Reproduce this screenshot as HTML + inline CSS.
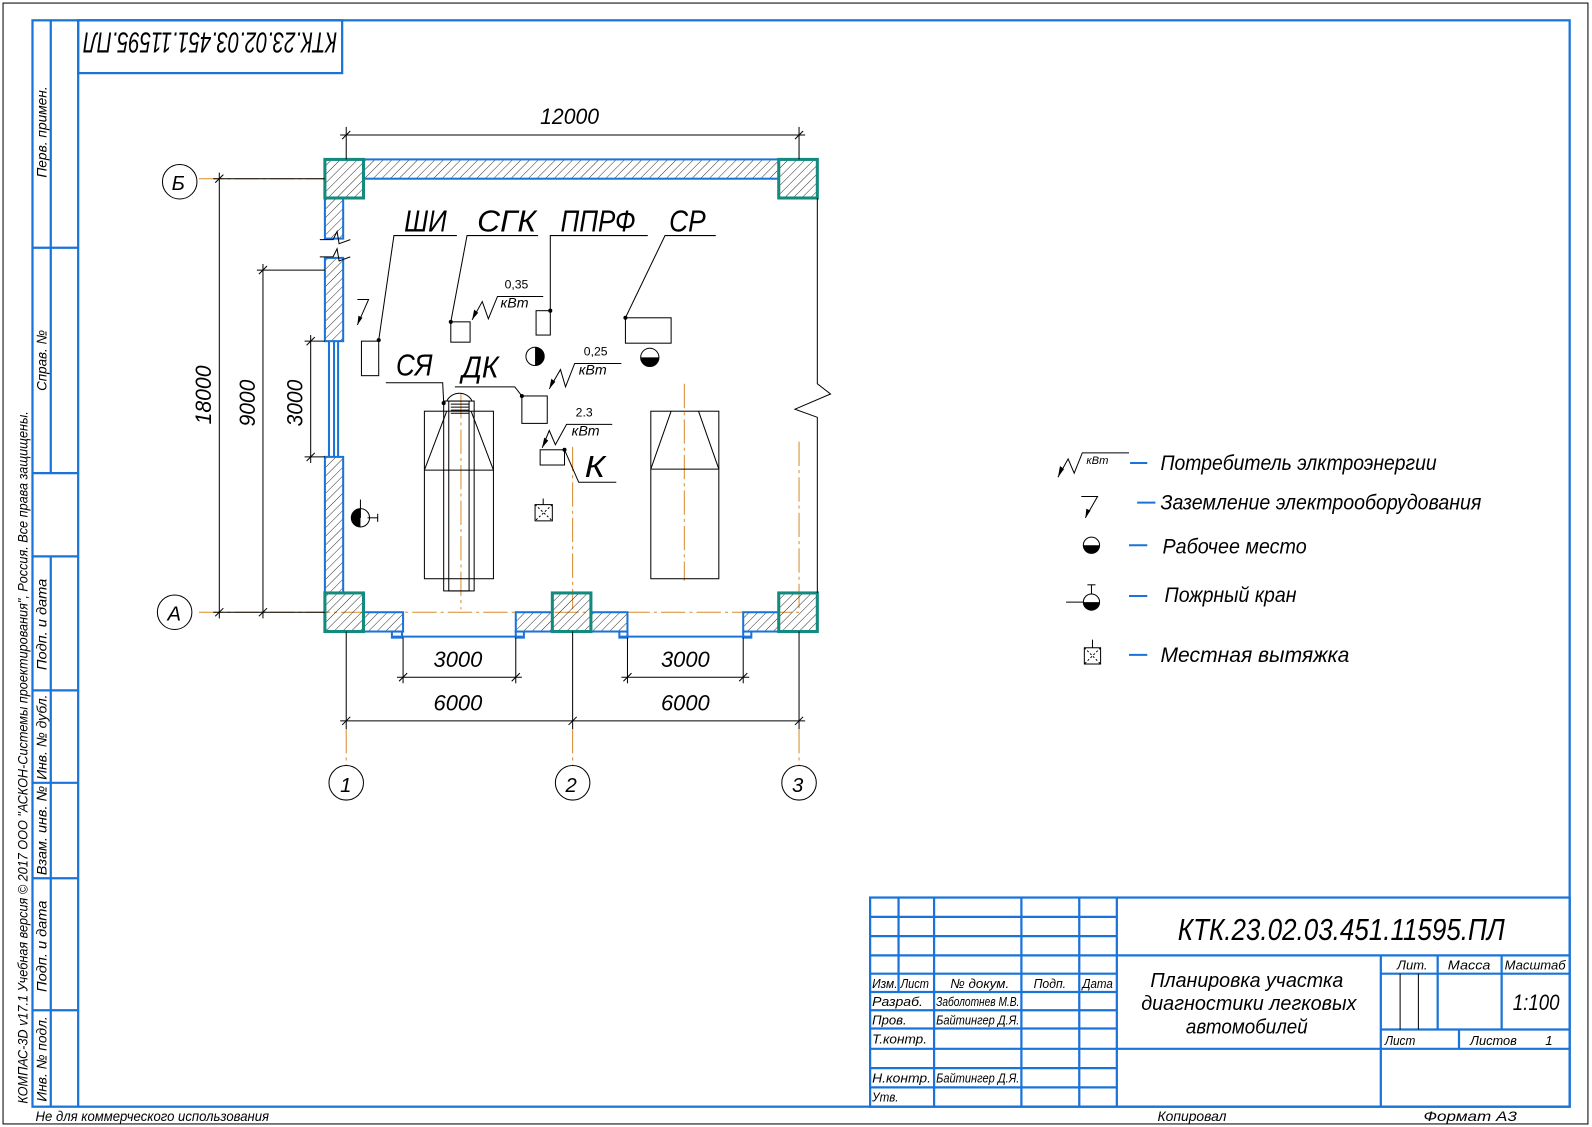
<!DOCTYPE html>
<html><head><meta charset="utf-8"><style>html,body{margin:0;padding:0;background:#fff}svg{display:block}
text{font-family:"Liberation Sans","DejaVu Sans",sans-serif;font-style:italic;fill:#000}</style></head><body>
<svg width="1592" height="1127" viewBox="0 0 1568 1110" xmlns="http://www.w3.org/2000/svg">
<defs>
<pattern id="h" width="6" height="6" patternUnits="userSpaceOnUse" patternTransform="rotate(45)"><line x1="0" y1="0" x2="0" y2="6" stroke="#000" stroke-width="0.8"/></pattern>
</defs>
<rect x="3" y="3" width="1561" height="1104" fill="none" stroke="#000" stroke-width="1"/>
<g stroke="#1a73d9" stroke-width="2.2" fill="none">
<rect x="32" y="20" width="1514" height="1070"/>
<line x1="77" y1="20" x2="77" y2="1090"/>
<line x1="50" y1="20" x2="50" y2="466"/>
<line x1="32" y1="244" x2="77" y2="244"/>
<line x1="32" y1="466" x2="77" y2="466"/>
<line x1="32" y1="548" x2="77" y2="548"/>
<line x1="50" y1="548" x2="50" y2="1090"/>
<line x1="32" y1="680" x2="77" y2="680"/>
<line x1="32" y1="771" x2="77" y2="771"/>
<line x1="32" y1="865" x2="77" y2="865"/>
<line x1="32" y1="995" x2="77" y2="995"/>
<rect x="77" y="20" width="260" height="52"/>
<rect x="857" y="884" width="689" height="206"/>
<line x1="885" y1="884" x2="885" y2="977"/>
<line x1="920" y1="884" x2="920" y2="1090"/>
<line x1="1006" y1="884" x2="1006" y2="1090"/>
<line x1="1063" y1="884" x2="1063" y2="1090"/>
<line x1="1100" y1="884" x2="1100" y2="1090"/>
<line x1="857" y1="903" x2="1100" y2="903"/><line x1="857" y1="922" x2="1100" y2="922"/>
<line x1="857" y1="941" x2="1546" y2="941"/><line x1="857" y1="959" x2="1100" y2="959"/>
<line x1="857" y1="977" x2="1100" y2="977"/><line x1="857" y1="995" x2="1100" y2="995"/>
<line x1="857" y1="1013" x2="1100" y2="1013"/><line x1="857" y1="1033" x2="1546" y2="1033"/>
<line x1="857" y1="1052" x2="1100" y2="1052"/><line x1="857" y1="1071" x2="1100" y2="1071"/>
<line x1="1360" y1="941" x2="1360" y2="1090"/>
<line x1="1360" y1="959" x2="1546" y2="959"/><line x1="1360" y1="1014" x2="1546" y2="1014"/>
<line x1="1416" y1="941" x2="1416" y2="1014"/><line x1="1479" y1="941" x2="1479" y2="1014"/>
<line x1="1437" y1="1014" x2="1437" y2="1033"/>
</g>
<g stroke="#000" stroke-width="1"><line x1="1379" y1="959" x2="1379" y2="1014"/><line x1="1397" y1="959" x2="1397" y2="1014"/></g>
<text transform="translate(337,45) rotate(180)" font-size="28" textLength="250" lengthAdjust="spacingAndGlyphs" y="13" x="5">КТК.23.02.03.451.11595.ПЛ</text>
<g font-size="14">
<text transform="translate(46,175) rotate(-90)" textLength="90" lengthAdjust="spacingAndGlyphs">Перв. примен.</text>
<text transform="translate(46,385) rotate(-90)" textLength="60" lengthAdjust="spacingAndGlyphs">Справ. №</text>
<text transform="translate(46,660) rotate(-90)" textLength="90" lengthAdjust="spacingAndGlyphs">Подп. и дата</text>
<text transform="translate(46,768) rotate(-90)" textLength="84" lengthAdjust="spacingAndGlyphs">Инв. № дубл.</text>
<text transform="translate(46,862) rotate(-90)" textLength="88" lengthAdjust="spacingAndGlyphs">Взам. инв. №</text>
<text transform="translate(46,977) rotate(-90)" textLength="90" lengthAdjust="spacingAndGlyphs">Подп. и дата</text>
<text transform="translate(46,1085) rotate(-90)" textLength="84" lengthAdjust="spacingAndGlyphs">Инв. № подл.</text>
<text transform="translate(27,1087) rotate(-90)" textLength="682" lengthAdjust="spacingAndGlyphs">КОМПАС-3D v17.1 Учебная версия © 2017 ООО "АСКОН-Системы проектирования", Россия. Все права защищены.</text>
<text x="35" y="1104" textLength="230" lengthAdjust="spacingAndGlyphs">Не для коммерческого использования</text>
<text x="1140" y="1104" textLength="68" lengthAdjust="spacingAndGlyphs">Копировал</text>
<text x="1402" y="1104" textLength="92" lengthAdjust="spacingAndGlyphs">Формат     А3</text>
</g>
<text x="1160" y="926" font-size="30" textLength="322" lengthAdjust="spacingAndGlyphs">КТК.23.02.03.451.11595.ПЛ</text>
<g font-size="20" text-anchor="middle">
<text x="1228" y="972" textLength="190" lengthAdjust="spacingAndGlyphs">Планировка участка</text>
<text x="1230" y="995" textLength="212" lengthAdjust="spacingAndGlyphs">диагностики легковых</text>
<text x="1228" y="1018" textLength="120" lengthAdjust="spacingAndGlyphs">автомобилей</text>
</g>
<g font-size="13">
<text x="859" y="973" textLength="25" lengthAdjust="spacingAndGlyphs">Изм.</text><text x="887" y="973" textLength="28" lengthAdjust="spacingAndGlyphs">Лист</text>
<text x="936" y="973" textLength="58" lengthAdjust="spacingAndGlyphs">№ докум.</text><text x="1018" y="973" textLength="32" lengthAdjust="spacingAndGlyphs">Подп.</text><text x="1066" y="973" textLength="30" lengthAdjust="spacingAndGlyphs">Дата</text>
<text x="859" y="991" textLength="50" lengthAdjust="spacingAndGlyphs">Разраб.</text><text x="922" y="991" textLength="82" lengthAdjust="spacingAndGlyphs">Заболотнев М.В.</text>
<text x="859" y="1009" textLength="34" lengthAdjust="spacingAndGlyphs">Пров.</text><text x="922" y="1009" textLength="82" lengthAdjust="spacingAndGlyphs">Байтингер Д.Я.</text>
<text x="859" y="1028" textLength="54" lengthAdjust="spacingAndGlyphs">Т.контр.</text>
<text x="859" y="1066" textLength="58" lengthAdjust="spacingAndGlyphs">Н.контр.</text><text x="922" y="1066" textLength="82" lengthAdjust="spacingAndGlyphs">Байтингер Д.Я.</text>
<text x="859" y="1085" textLength="26" lengthAdjust="spacingAndGlyphs">Утв.</text>
<text x="1376" y="955" textLength="30" lengthAdjust="spacingAndGlyphs">Лит.</text><text x="1426" y="955" textLength="42" lengthAdjust="spacingAndGlyphs">Масса</text><text x="1482" y="955" textLength="60" lengthAdjust="spacingAndGlyphs">Масштаб</text>
<text x="1364" y="1029" textLength="30" lengthAdjust="spacingAndGlyphs">Лист</text><text x="1448" y="1029" textLength="46" lengthAdjust="spacingAndGlyphs">Листов</text><text x="1522" y="1029">1</text>
</g>
<text x="1490" y="995" font-size="22" textLength="46" lengthAdjust="spacingAndGlyphs">1:100</text>

<g stroke="#d98a2b" stroke-width="1" stroke-dasharray="24,4,3,4" fill="none">
<line x1="196" y1="176" x2="320" y2="176"/><line x1="196" y1="603" x2="787" y2="603"/>
<line x1="341" y1="718" x2="341" y2="754"/><line x1="564" y1="718" x2="564" y2="754"/><line x1="787" y1="718" x2="787" y2="754"/>
<line x1="454" y1="388" x2="454" y2="600"/><line x1="564" y1="440" x2="564" y2="600"/>
<line x1="674" y1="378" x2="674" y2="572"/><line x1="787" y1="435" x2="787" y2="600"/>
</g>
<g stroke="#1a73d9" stroke-width="2" fill="url(#h)">
<rect x="358" y="157" width="409" height="19"/>
<rect x="320" y="195" width="18" height="40"/>
<rect x="320" y="254" width="18" height="82"/>
<rect x="320" y="450" width="18" height="134"/>
<rect x="358" y="603" width="39" height="19"/>
<rect x="508" y="603" width="36" height="19"/>
<rect x="582" y="603" width="36" height="19"/>
<rect x="732" y="603" width="35" height="19"/>
</g>
<g stroke="#1a73d9" stroke-width="2" fill="none">
<line x1="324" y1="336" x2="324" y2="450"/><line x1="329" y1="336" x2="329" y2="450"/><line x1="333" y1="336" x2="333" y2="450"/>
<line x1="386" y1="627" x2="515" y2="627"/><line x1="610" y1="627" x2="740" y2="627"/>
<rect x="386" y="622" width="10" height="6"/><rect x="508" y="622" width="8" height="6"/><rect x="610" y="622" width="8" height="6"/><rect x="732" y="622" width="8" height="6"/>
</g>
<g stroke="#138a7e" stroke-width="3" fill="url(#h)">
<rect x="320" y="157" width="38" height="38"/><rect x="767" y="157" width="38" height="38"/>
<rect x="320" y="584" width="38" height="38"/><rect x="544" y="584" width="38" height="38"/><rect x="767" y="584" width="38" height="38"/>
</g>
<g stroke="#000" stroke-width="1" fill="none">
<polyline points="805,195 805,378 818,388 783,403 805,411 805,584"/>
<polyline points="315,236 328,236 332,228 334,240 345,236"/>
<polyline points="315,253 328,253 332,245 334,257 345,253"/>
<line x1="341" y1="125" x2="341" y2="157"/><line x1="787" y1="125" x2="787" y2="157"/>
<line x1="335" y1="133" x2="793" y2="133"/>
<line x1="337" y1="137" x2="345" y2="129"/><line x1="783" y1="137" x2="791" y2="129"/>
<line x1="210" y1="176" x2="320" y2="176"/><line x1="210" y1="603" x2="320" y2="603"/>
<line x1="216" y1="170" x2="216" y2="609"/><line x1="212" y1="180" x2="220" y2="172"/><line x1="212" y1="607" x2="220" y2="599"/>
<line x1="253" y1="266" x2="320" y2="266"/><line x1="259" y1="260" x2="259" y2="609"/>
<line x1="255" y1="270" x2="263" y2="262"/><line x1="255" y1="607" x2="263" y2="599"/>
<line x1="300" y1="336" x2="320" y2="336"/><line x1="300" y1="450" x2="320" y2="450"/>
<line x1="306" y1="330" x2="306" y2="456"/><line x1="302" y1="340" x2="310" y2="332"/><line x1="302" y1="454" x2="310" y2="446"/>
<line x1="341" y1="622" x2="341" y2="718"/><line x1="564" y1="622" x2="564" y2="718"/><line x1="787" y1="622" x2="787" y2="718"/>
<line x1="335" y1="710" x2="793" y2="710"/>
<line x1="337" y1="714" x2="345" y2="706"/><line x1="560" y1="714" x2="568" y2="706"/><line x1="783" y1="714" x2="791" y2="706"/>
<line x1="397" y1="628" x2="397" y2="673"/><line x1="508" y1="628" x2="508" y2="673"/>
<line x1="618" y1="628" x2="618" y2="673"/><line x1="732" y1="628" x2="732" y2="673"/>
<line x1="391" y1="667" x2="514" y2="667"/><line x1="612" y1="667" x2="738" y2="667"/>
<line x1="393" y1="671" x2="401" y2="663"/><line x1="504" y1="671" x2="512" y2="663"/>
<line x1="614" y1="671" x2="622" y2="663"/><line x1="728" y1="671" x2="736" y2="663"/>
<circle cx="177" cy="179" r="17"/><circle cx="172" cy="603" r="17"/>
<circle cx="341" cy="771" r="17"/><circle cx="564" cy="771" r="17"/><circle cx="787" cy="771" r="17"/>
<rect x="356" y="336" width="17" height="34"/>
<rect x="444" y="317" width="19" height="20"/>
<rect x="528" y="306" width="14" height="24"/>
<rect x="616" y="313" width="45" height="25"/>
<rect x="514" y="390" width="25" height="27"/>
<rect x="532" y="443" width="24" height="15"/>
<polyline points="373,335 388,232 450,232"/>
<polyline points="444,317 460,232 530,232"/>
<polyline points="542,306 542,232 638,232"/>
<polyline points="616,313 655,232 705,232"/>
<polyline points="437,397 436,377 380,377"/>
<polyline points="514,390 507,381 448,381"/>
<polyline points="556,443 570,475 607,475"/>
<polyline points="465,315 475,297 481,314 490,292 535,292"/>
<polyline points="541,383 552,364 557,381 566,358 612,358"/>
<polyline points="534,441 541,424 547,438 558,418 603,418"/>
<rect x="418" y="405" width="68" height="165"/>
<line x1="418" y1="463" x2="486" y2="463"/>
<polyline points="418,463 440,405"/><polyline points="486,463 464,405"/>
<rect x="437" y="395" width="30" height="187"/><rect x="442" y="395" width="20" height="187"/>
<path d="M440,395 A14,14 0 0 1 465,395"/>
<rect x="641" y="405" width="67" height="165"/>
<line x1="641" y1="462" x2="708" y2="462"/>
<polyline points="641,462 661,405"/><polyline points="708,462 688,405"/>
<line x1="355" y1="492" x2="355" y2="510"/><line x1="362" y1="510" x2="372" y2="510"/><line x1="372" y1="506" x2="372" y2="514"/>
<rect x="527" y="497" width="17" height="16"/><line x1="535" y1="491" x2="535" y2="497"/>
<line x1="527" y1="497" x2="544" y2="513" stroke-dasharray="2,2"/><line x1="544" y1="497" x2="527" y2="513" stroke-dasharray="2,2"/>
<polyline points="352,295 363,295 352,320"/>
</g>
<g stroke="#000" stroke-width="1">
<line x1="444" y1="398" x2="462" y2="398"/><line x1="444" y1="401" x2="462" y2="401"/><line x1="444" y1="404" x2="462" y2="404"/><line x1="444" y1="407" x2="462" y2="407"/>
</g>
<g fill="#000">
<circle cx="373" cy="335" r="2"/><circle cx="444" cy="317" r="2"/><circle cx="542" cy="306" r="2"/><circle cx="616" cy="313" r="2"/>
<circle cx="437" cy="397" r="2"/><circle cx="514" cy="390" r="2"/><circle cx="556" cy="443" r="2"/>
<path d="M527,342 A9,9 0 0 1 527,360 Z"/><path d="M631,352 A9,9 0 0 0 649,352 Z"/>
<path d="M355,501 A9,9 0 0 0 355,519 Z"/>
<polygon points="465,315 467,305 471,308"/><polygon points="541,383 543,373 547,376"/><polygon points="534,441 536,431 540,434"/>
<polygon points="352,320 353,311 357,313"/>
</g>
<g fill="none" stroke="#000" stroke-width="1"><circle cx="527" cy="351" r="9"/><circle cx="640" cy="352" r="9"/><circle cx="355" cy="510" r="9"/></g>
<g font-size="30">
<text x="398" y="228" textLength="42" lengthAdjust="spacingAndGlyphs">ШИ</text>
<text x="470" y="228" textLength="58" lengthAdjust="spacingAndGlyphs">СГК</text>
<text x="552" y="228" textLength="74" lengthAdjust="spacingAndGlyphs">ППРФ</text>
<text x="659" y="228" textLength="36" lengthAdjust="spacingAndGlyphs">СР</text>
<text x="390" y="370" textLength="36" lengthAdjust="spacingAndGlyphs">СЯ</text>
<text x="455" y="372" textLength="36" lengthAdjust="spacingAndGlyphs">ДК</text>
<text x="576" y="470" textLength="20" lengthAdjust="spacingAndGlyphs">К</text>
</g>
<g font-size="12">
<text x="497" y="284" style="font-style:normal">0,35</text><text x="575" y="350" style="font-style:normal">0,25</text><text x="567" y="410" style="font-style:normal">2.3</text>
</g>
<g font-size="14">
<text x="493" y="303">кВт</text><text x="570" y="369">кВт</text><text x="563" y="429">кВт</text>
</g>
<g font-size="22">
<text x="532" y="122" textLength="58" lengthAdjust="spacingAndGlyphs">12000</text>
<text transform="translate(208,418) rotate(-90)" textLength="58" lengthAdjust="spacingAndGlyphs">18000</text>
<text transform="translate(251,420) rotate(-90)" textLength="46" lengthAdjust="spacingAndGlyphs">9000</text>
<text transform="translate(298,420) rotate(-90)" textLength="46" lengthAdjust="spacingAndGlyphs">3000</text>
<text x="427" y="657" textLength="48" lengthAdjust="spacingAndGlyphs">3000</text>
<text x="651" y="657" textLength="48" lengthAdjust="spacingAndGlyphs">3000</text>
<text x="427" y="700" textLength="48" lengthAdjust="spacingAndGlyphs">6000</text>
<text x="651" y="700" textLength="48" lengthAdjust="spacingAndGlyphs">6000</text>
<text x="169" y="187" font-size="20">Б</text><text x="165" y="611" font-size="20">А</text>
<text x="335" y="780" font-size="20">1</text><text x="557" y="780" font-size="20">2</text><text x="780" y="780" font-size="20">3</text>
</g>
<g stroke="#000" stroke-width="1" fill="none">
<polyline points="1042,470 1052,452 1058,466 1066,446 1112,446"/>
<polyline points="1065,489 1081,489 1069,510"/>
<circle cx="1075" cy="537" r="8"/>
<line x1="1050" y1="593" x2="1067" y2="593"/><circle cx="1075" cy="593" r="8"/><line x1="1075" y1="576" x2="1075" y2="585"/><line x1="1071" y1="576" x2="1079" y2="576"/>
<rect x="1068" y="638" width="16" height="16"/><line x1="1076" y1="630" x2="1076" y2="638"/>
<line x1="1068" y1="638" x2="1084" y2="654" stroke-dasharray="2,2"/><line x1="1084" y1="638" x2="1068" y2="654" stroke-dasharray="2,2"/>
</g>
<g fill="#000">
<polygon points="1042,470 1044,459 1048,462"/><polygon points="1069,510 1070,501 1074,503"/>
<path d="M1067,537 A8,8 0 0 0 1083,537 Z"/><path d="M1067,593 A8,8 0 0 0 1083,593 Z"/>
</g>
<text x="1070" y="457" font-size="11">кВт</text>
<g stroke="#1a73d9" stroke-width="2">
<line x1="1113" y1="456" x2="1130" y2="456"/><line x1="1120" y1="495" x2="1138" y2="495"/>
<line x1="1112" y1="537" x2="1130" y2="537"/><line x1="1112" y1="587" x2="1130" y2="587"/><line x1="1112" y1="645" x2="1130" y2="645"/>
</g>
<g font-size="21">
<text x="1143" y="463" textLength="272" lengthAdjust="spacingAndGlyphs">Потребитель элктроэнергии</text>
<text x="1143" y="502" textLength="316" lengthAdjust="spacingAndGlyphs">Заземление электрооборудования</text>
<text x="1145" y="545" textLength="142" lengthAdjust="spacingAndGlyphs">Рабочее место</text>
<text x="1147" y="593" textLength="130" lengthAdjust="spacingAndGlyphs">Пожрный кран</text>
<text x="1143" y="652" textLength="186" lengthAdjust="spacingAndGlyphs">Местная вытяжка</text>
</g>
</svg>
</body></html>
